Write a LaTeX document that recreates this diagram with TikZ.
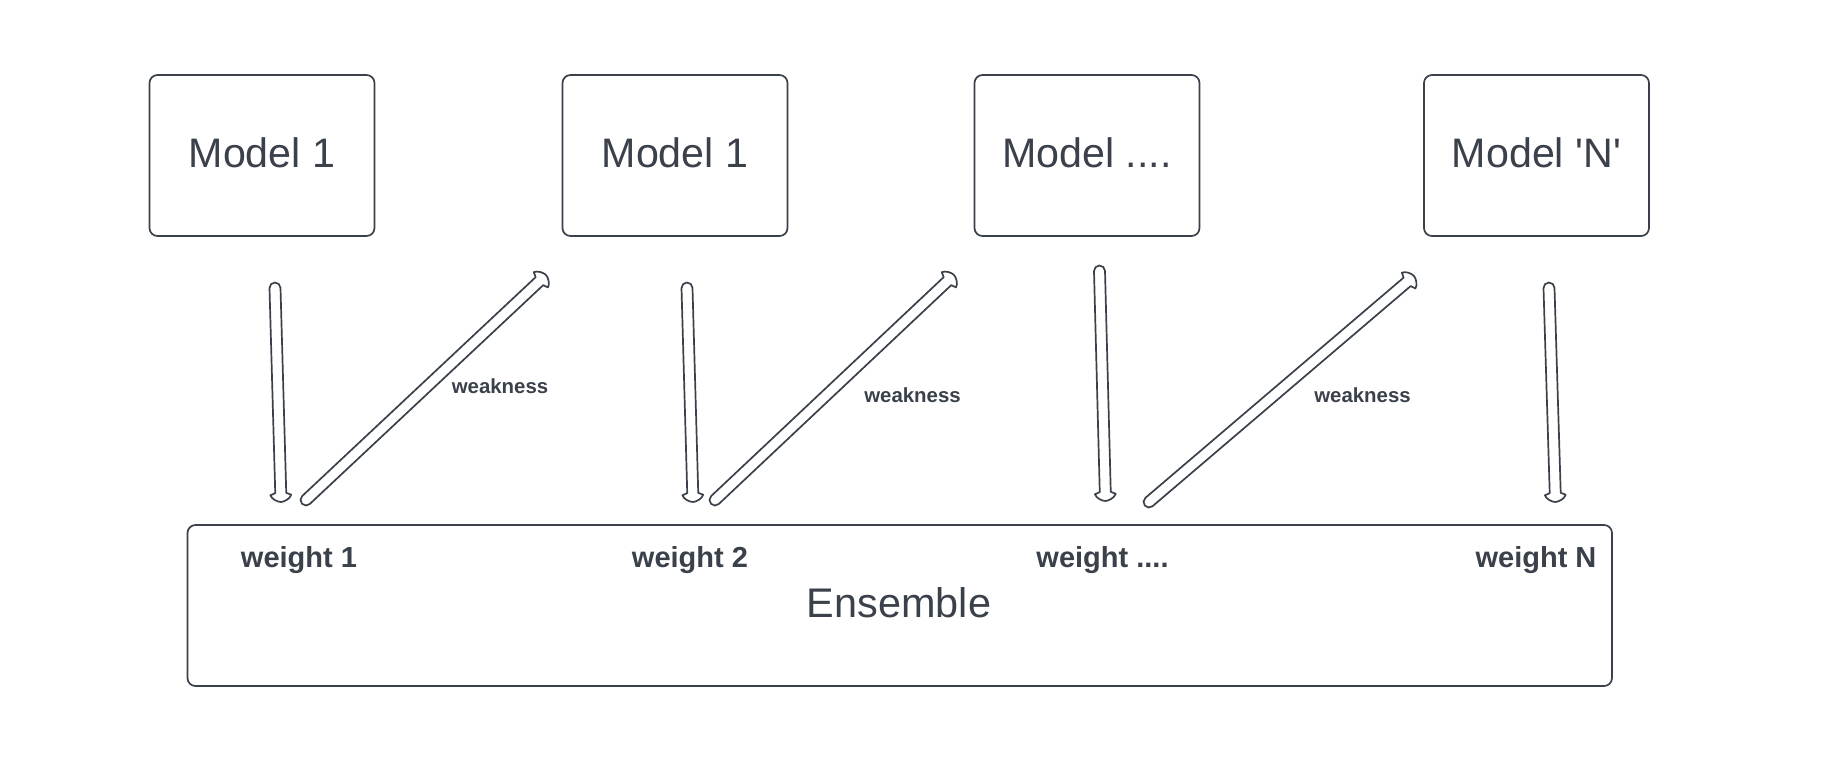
\documentclass[tikz,border=0pt]{standalone}
\usepackage{fontspec}
\setmainfont{Liberation Sans}
\usetikzlibrary{calc}
\definecolor{ink}{HTML}{3A414A}
\tikzset{
  boxstyle/.style={draw=ink, line width=0.85pt, rounded corners=4pt, inner sep=0pt, text=ink},
  modelbox/.style={boxstyle, minimum width=112.5pt, minimum height=80.5pt, text depth=3pt, font=\fontsize{20.6}{24}\selectfont},
  weighttext/.style={text=ink, inner sep=0pt, anchor=base, font=\fontsize{14.5}{17}\selectfont\bfseries},
  weaktext/.style={text=ink, inner sep=0pt, anchor=base, font=\fontsize{10.2}{12}\selectfont\bfseries},
  bigtext/.style={text=ink, inner sep=0pt, anchor=base, font=\fontsize{20.7}{24}\selectfont},
  arrowline/.style={draw=ink, line width=0.85pt, fill=white, line join=round}
}
\newcommand\hollowarrow[2]{%
  \pgfmathanglebetweenpoints{\pgfpointanchor{#1}{center}}{\pgfpointanchor{#2}{center}}%
  \let\harang\pgfmathresult
  \pgfpointdiff{\pgfpointanchor{#1}{center}}{\pgfpointanchor{#2}{center}}%
  \pgfgetlastxy{\harx}{\hary}%
  \pgfmathveclen{\harx}{\hary}%
  \let\harlen\pgfmathresult
  \begin{scope}[shift={(#1)}, rotate=\harang]
    \draw[arrowline] ({\harlen pt-4.5pt},2.75pt) -- (0pt,2.75pt)
      arc[start angle=90,end angle=270,radius=2.75pt]
      -- ({\harlen pt-4.5pt},-2.75pt) -- ({\harlen pt-3.5pt},-5.2pt)
      .. controls ({\harlen pt-1.5pt},-4.6pt) and ({\harlen pt},-1.6pt) .. ({\harlen pt},0pt)
      .. controls ({\harlen pt},1.6pt) and ({\harlen pt-1.5pt},4.6pt) .. ({\harlen pt-3.5pt},5.2pt)
      -- cycle;
  \end{scope}}
\begin{document}
\begin{tikzpicture}[x=0.5pt, y=-0.5pt]
\useasboundingbox[fill=white] (0,0) rectangle (1838,761);
% model boxes
\node[modelbox] (m1) at (262,155.5) {Model 1};
\node[modelbox] (m2) at (675,155.5) {Model 1};
\node[modelbox] (m3) at (1087,155.5) {Model ....};
\node[modelbox] (m4) at (1536.5,155.5) {Model \textquotesingle N\textquotesingle};
% ensemble
\node[boxstyle, minimum width=712.25pt, minimum height=80.5pt] (ens) at (899.75,605.5) {};
\node[bigtext] (enst) at (899,617) {Ensemble};
\node[weighttext] (w1) at (299,567.5) {weight 1};
\node[weighttext] (w2) at (690,567.5) {weight 2};
\node[weighttext] (w3) at (1102.5,567.5) {weight ....};
\node[weighttext] (w4) at (1536,567.5) {weight N};
% weakness labels
\node[weaktext] (k1) at (500,393.5) {weakness};
\node[weaktext] (k2) at (912.5,402) {weakness};
\node[weaktext] (k3) at (1362.5,402) {weakness};
% arrow end points
\coordinate (a1s) at (275,288);  \coordinate (a1e) at (281,502);
\coordinate (a2s) at (687,288);  \coordinate (a2e) at (693,502);
\coordinate (a3s) at (1099.5,271); \coordinate (a3e) at (1105.5,501);
\coordinate (a4s) at (1549,288); \coordinate (a4e) at (1555.5,502);
\coordinate (d1s) at (306,500);  \coordinate (d1e) at (546,275);
\coordinate (d2s) at (715,500);  \coordinate (d2e) at (954,275);
\coordinate (d3s) at (1149,502); \coordinate (d3e) at (1414,276);
\hollowarrow{a1s}{a1e}
\hollowarrow{a2s}{a2e}
\hollowarrow{a3s}{a3e}
\hollowarrow{a4s}{a4e}
\hollowarrow{d1s}{d1e}
\hollowarrow{d2s}{d2e}
\hollowarrow{d3s}{d3e}
\end{tikzpicture}
\end{document}
